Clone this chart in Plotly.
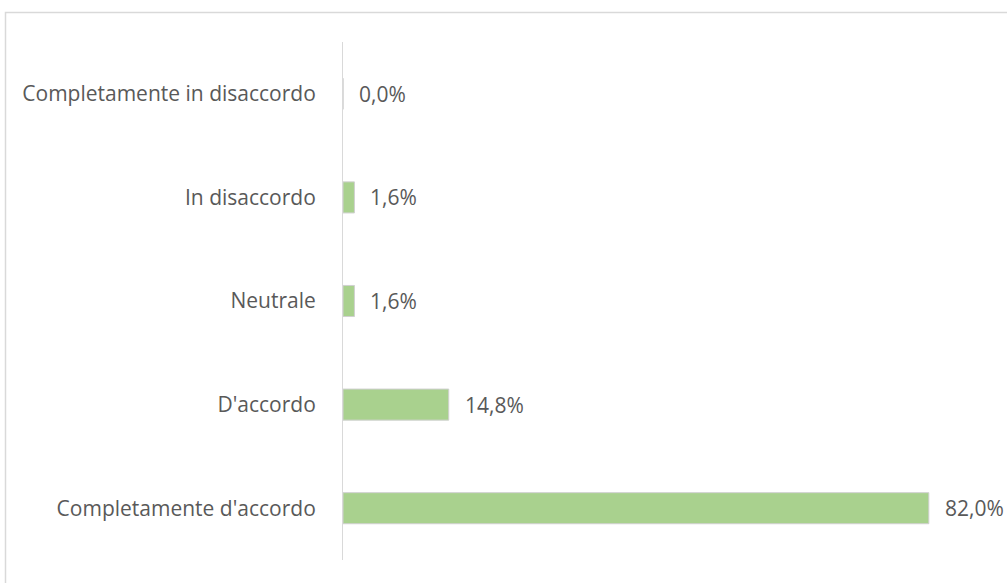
import plotly.graph_objects as go

categories = ["Completamente in disaccordo", "In disaccordo", "Neutrale",
              "D'accordo", "Completamente d'accordo"]
values = [0.0, 1.6, 1.6, 14.8, 82.0]

W, H = 1007, 583
FONT = "Open Sans, Lato, sans-serif"

def fmt(v):
    return f"{v:.1f}".replace(".", ",") + "%"

fig = go.Figure(go.Bar(
    y=categories, x=values, orientation="h",
    marker=dict(color="#a9d18e", line=dict(color="#d0d0d0", width=1)),
    width=0.3, hoverinfo="skip",
))

for c, v in zip(categories, values):
    fig.add_annotation(x=v, y=c, text=fmt(v), showarrow=False,
                       xanchor="left", xshift=14,
                       font=dict(family=FONT, size=21, color="#595959"))

fig.update_layout(
    width=W, height=H,
    margin=dict(l=0, r=0, t=0, b=0),
    paper_bgcolor="white", plot_bgcolor="white",
    showlegend=False,
    font=dict(family=FONT, size=21, color="#595959"),
    xaxis=dict(domain=[343 / W, 986 / W], range=[0, 90], visible=False, fixedrange=True),
    yaxis=dict(domain=[1 - 560 / H, 1 - 42 / H], autorange="reversed",
               showline=True, linecolor="#d9d9d9", linewidth=1,
               ticks="", showgrid=False, zeroline=False,
               ticklabelstandoff=22, automargin=False),
    shapes=[dict(type="rect", xref="paper", yref="paper",
                 x0=5.5 / W, x1=1.05, y0=-0.05, y1=1 - 12.5 / H,
                 line=dict(color="#d9d9d9", width=1.5), fillcolor="rgba(0,0,0,0)")],
)

fig.write_html("out.html")
